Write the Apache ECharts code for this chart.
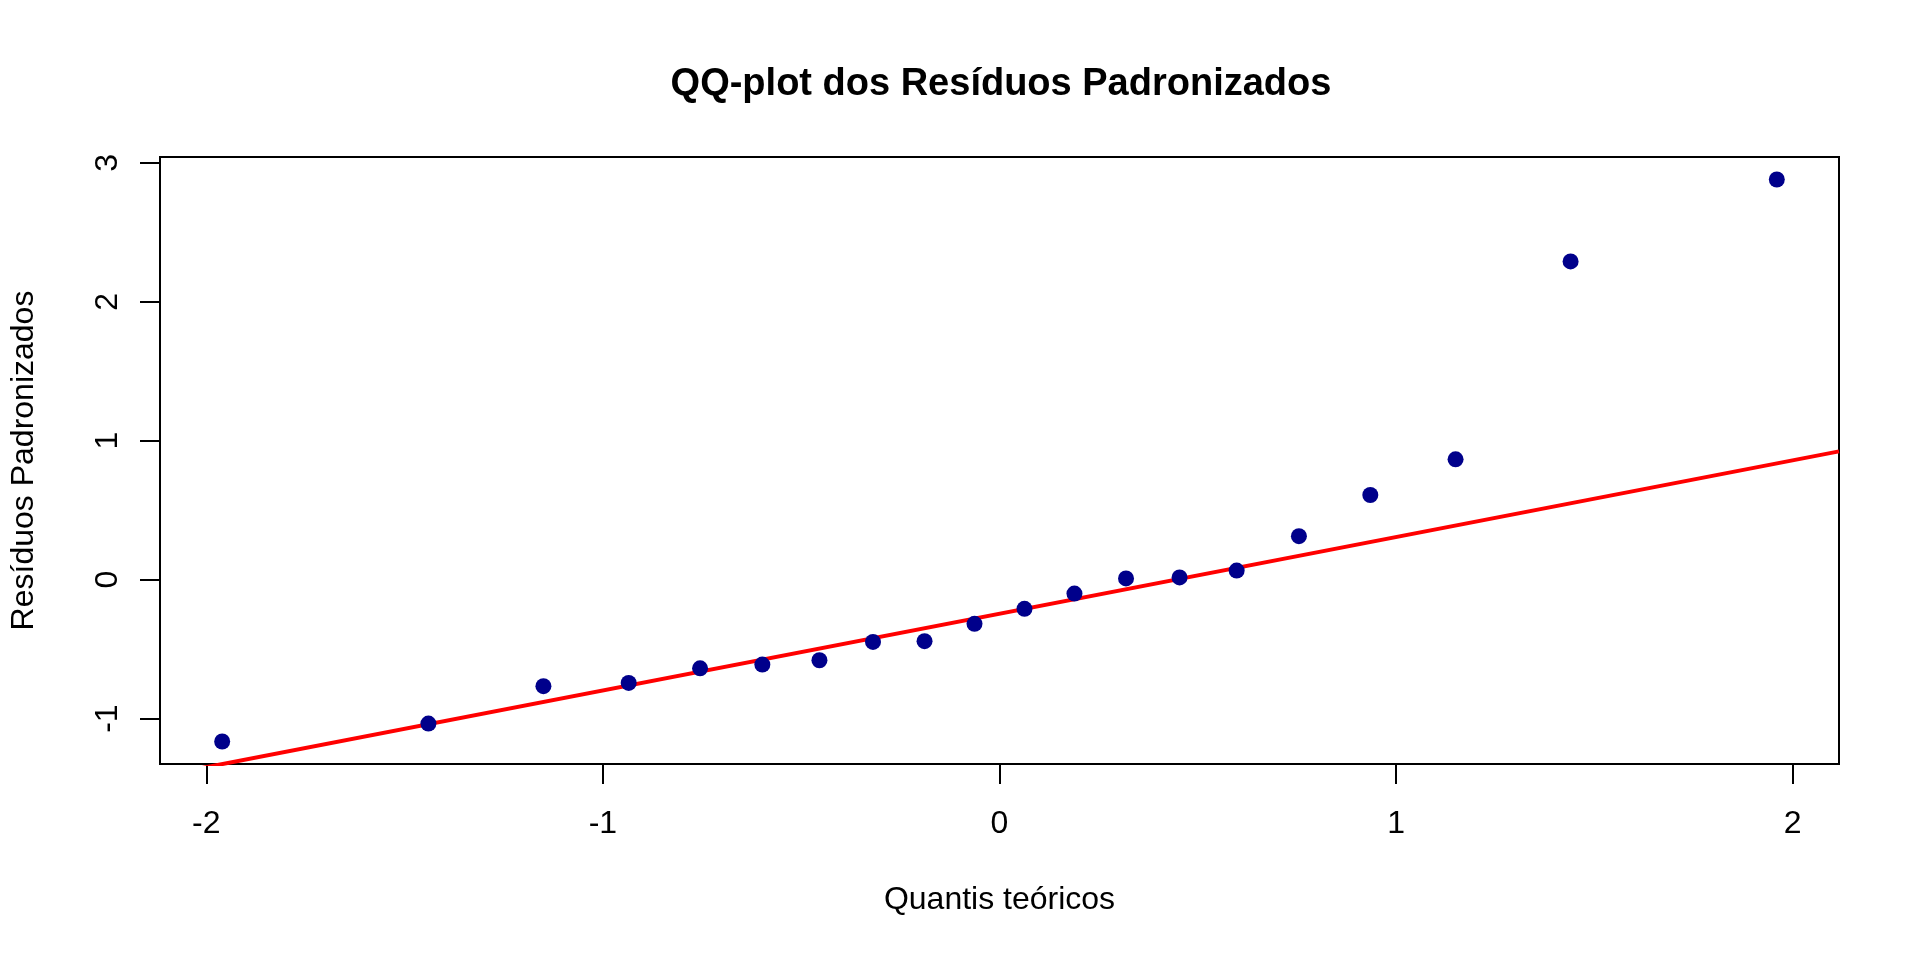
<!DOCTYPE html>
<html>
<head>
<meta charset="utf-8">
<script src="https://cdn.jsdelivr.net/npm/echarts@6/dist/echarts.min.js"></script>
<style>
html,body{margin:0;padding:0;background:#fff;}
#chart{width:1920px;height:960px;}
</style>
</head>
<body>
<div id="chart"></div>
<script>
// Theoretical normal quantiles (n = 20)
var theoreticalQuantiles = [-1.96, -1.44, -1.15, -0.935, -0.755, -0.598, -0.454, -0.319, -0.189, -0.063,
                            0.063, 0.189, 0.319, 0.454, 0.598, 0.755, 0.935, 1.15, 1.44, 1.96];
// Standardized residuals (sorted)
var standardizedResiduals = [-1.165, -1.036, -0.767, -0.743, -0.638, -0.611, -0.580, -0.448, -0.443, -0.318,
                             -0.210, -0.100, 0.009, 0.016, 0.065, 0.313, 0.609, 0.866, 2.29, 2.88];
var xTickValues = [-2, -1, 0, 1, 2];
var yTickValues = [-1, 0, 1, 2, 3];
var titleText = 'QQ-plot dos Resíduos Padronizados';
var xAxisTitle = 'Quantis teóricos';
var yAxisTitle = 'Resíduos Padronizados';

// R-style quantile (type 7)
function quantile7(arr, p) {
  var s = arr.slice().sort(function(a,b){return a-b;});
  var h = (s.length - 1) * p;
  var lo = Math.floor(h);
  return s[lo] + (h - lo) * ((s[Math.min(lo+1, s.length-1)]) - s[lo]);
}
// qqline through quartiles
var q1 = quantile7(standardizedResiduals, 0.25), q3 = quantile7(standardizedResiduals, 0.75);
var zq = 0.6744898;
var slope = (q3 - q1) / (2 * zq);
var intercept = q1 + slope * zq;

function padRange(arr) {
  var mn = Math.min.apply(null, arr), mx = Math.max.apply(null, arr);
  var d = (mx - mn) * 0.04;
  return [mn - d, mx + d];
}
var xr = padRange(theoreticalQuantiles);
var yr = padRange(standardizedResiduals);

var points = theoreticalQuantiles.map(function(x, i){ return [x, standardizedResiduals[i]]; });
var lineData = [[xr[0], intercept + slope * xr[0]], [xr[1], intercept + slope * xr[1]]];

var font = "'Liberation Sans', Arial, Helvetica, sans-serif";
var chart = echarts.init(document.getElementById('chart'), null, {renderer: 'canvas'});
chart.setOption({
  animation: false,
  backgroundColor: '#ffffff',
  title: {
    text: titleText,
    left: 996, top: 61, textAlign: 'center',
    textStyle: {fontFamily: font, fontSize: 38, fontWeight: 'bold', color: '#000'}
  },
  grid: {
    left: 157, top: 157, width: 1682, height: 607,
    show: true, borderColor: '#000', borderWidth: 2, backgroundColor: 'transparent'
  },
  xAxis: {
    type: 'value', min: xr[0], max: xr[1],
    name: xAxisTitle, nameLocation: 'middle', nameGap: 120,
    nameTextStyle: {fontFamily: font, fontSize: 32, color: '#000'},
    axisLine: {show: false, onZero: false},
    splitLine: {show: false},
    axisTick: {show: true, inside: false, length: 20, lineStyle: {color: '#000', width: 2}, customValues: xTickValues},
    axisLabel: {fontFamily: font, fontSize: 32, color: '#000', margin: 44, customValues: xTickValues,
                formatter: function(v){ return String(v); }}
  },
  yAxis: {
    type: 'value', min: yr[0], max: yr[1],
    name: yAxisTitle, nameLocation: 'middle', nameGap: 120,
    nameTextStyle: {fontFamily: font, fontSize: 32, color: '#000'},
    axisLine: {show: false, onZero: false},
    splitLine: {show: false},
    axisTick: {show: true, inside: false, length: 20, lineStyle: {color: '#000', width: 2}, customValues: yTickValues},
    axisLabel: {fontFamily: font, fontSize: 32, color: '#000', margin: 36, rotate: 90, customValues: yTickValues,
                formatter: function(v){ return String(v); }}
  },
  series: [
    {
      type: 'line', data: lineData, showSymbol: false, symbol: 'none', clip: true,
      lineStyle: {color: '#ff0000', width: 4}, z: 2, silent: true
    },
    {
      type: 'scatter', data: points, symbol: 'circle', symbolSize: 16,
      itemStyle: {color: '#00008b', opacity: 1}, z: 3
    }
  ]
});
</script>
</body>
</html>
